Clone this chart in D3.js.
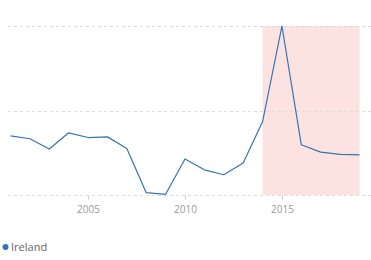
<!DOCTYPE html>
<html>
<head>
<meta charset="utf-8">
<script src="https://cdn.jsdelivr.net/npm/d3@7"></script>
<style>
  body { margin: 0; background: #fff; font-family: "Open Sans", sans-serif; }
</style>
</head>
<body>
<div id="chart"></div>
<script>
var years = [2001, 2002, 2003, 2004, 2005, 2006, 2007, 2008, 2009, 2010,
             2011, 2012, 2013, 2014, 2015, 2016, 2017, 2018, 2019];
var ireland = [3.50, 3.33, 2.72, 3.68, 3.40, 3.44, 2.75, 0.14, 0.04, 2.13,
               1.49, 1.20, 1.89, 4.33, 10.0, 2.97, 2.54, 2.40, 2.38];
var yTicks = [0, 5, 10];
var xTicks = [2005, 2010, 2015];
var highlight = [2014, 2019];
var seriesName = "Ireland";

var width = 371, height = 260;
var margin = { top: 26, right: 11.5, bottom: 65, left: 10.5 };

var svg = d3.select("#chart").append("svg")
  .attr("width", width)
  .attr("height", height);

var x = d3.scaleLinear()
  .domain([2001, 2019])
  .range([margin.left, width - margin.right]);

var y = d3.scaleLinear()
  .domain([0, 10])
  .range([height - margin.bottom, margin.top]);

// shaded period
svg.append("rect")
  .attr("x", x(highlight[0]))
  .attr("y", y(10))
  .attr("width", x(highlight[1]) - x(highlight[0]))
  .attr("height", y(0) - y(10))
  .attr("fill", "#fde2e2");

// grid lines
svg.append("g")
  .selectAll("line")
  .data(yTicks)
  .join("line")
  .attr("x1", 8)
  .attr("x2", width)
  .attr("y1", function(d) { return Math.round(y(d)) + 0.5; })
  .attr("y2", function(d) { return Math.round(y(d)) + 0.5; })
  .attr("stroke", "#dcdcdc")
  .attr("stroke-width", 1)
  .attr("stroke-dasharray", "3,3");

// x axis
var xAxis = svg.append("g")
  .attr("transform", "translate(0," + (Math.round(y(0)) + 0.5) + ")")
  .call(d3.axisBottom(x).tickValues(xTicks).tickFormat(d3.format("d")).tickSize(4).tickPadding(6));
xAxis.select(".domain").remove();
xAxis.selectAll(".tick line").attr("stroke", "#ccc");
xAxis.selectAll(".tick text")
  .attr("fill", "#999")
  .style("font-family", "'Open Sans', sans-serif")
  .style("font-size", "10px");

// line
var line = d3.line()
  .x(function(d, i) { return x(years[i]); })
  .y(function(d) { return y(d); });

svg.append("path")
  .datum(ireland)
  .attr("fill", "none")
  .attr("stroke", "#3574b4")
  .attr("stroke-width", 1.2)
  .attr("stroke-linejoin", "round")
  .attr("d", line);

// legend
var legend = svg.append("g").attr("transform", "translate(0,247)");
legend.append("circle")
  .attr("cx", 5.5)
  .attr("cy", 0)
  .attr("r", 3)
  .attr("fill", "#3574b4");
legend.append("text")
  .attr("x", 11)
  .attr("y", 4)
  .attr("fill", "#666")
  .style("font-family", "'Open Sans', sans-serif")
  .style("font-size", "11px")
  .text(seriesName);
</script>
</body>
</html>
